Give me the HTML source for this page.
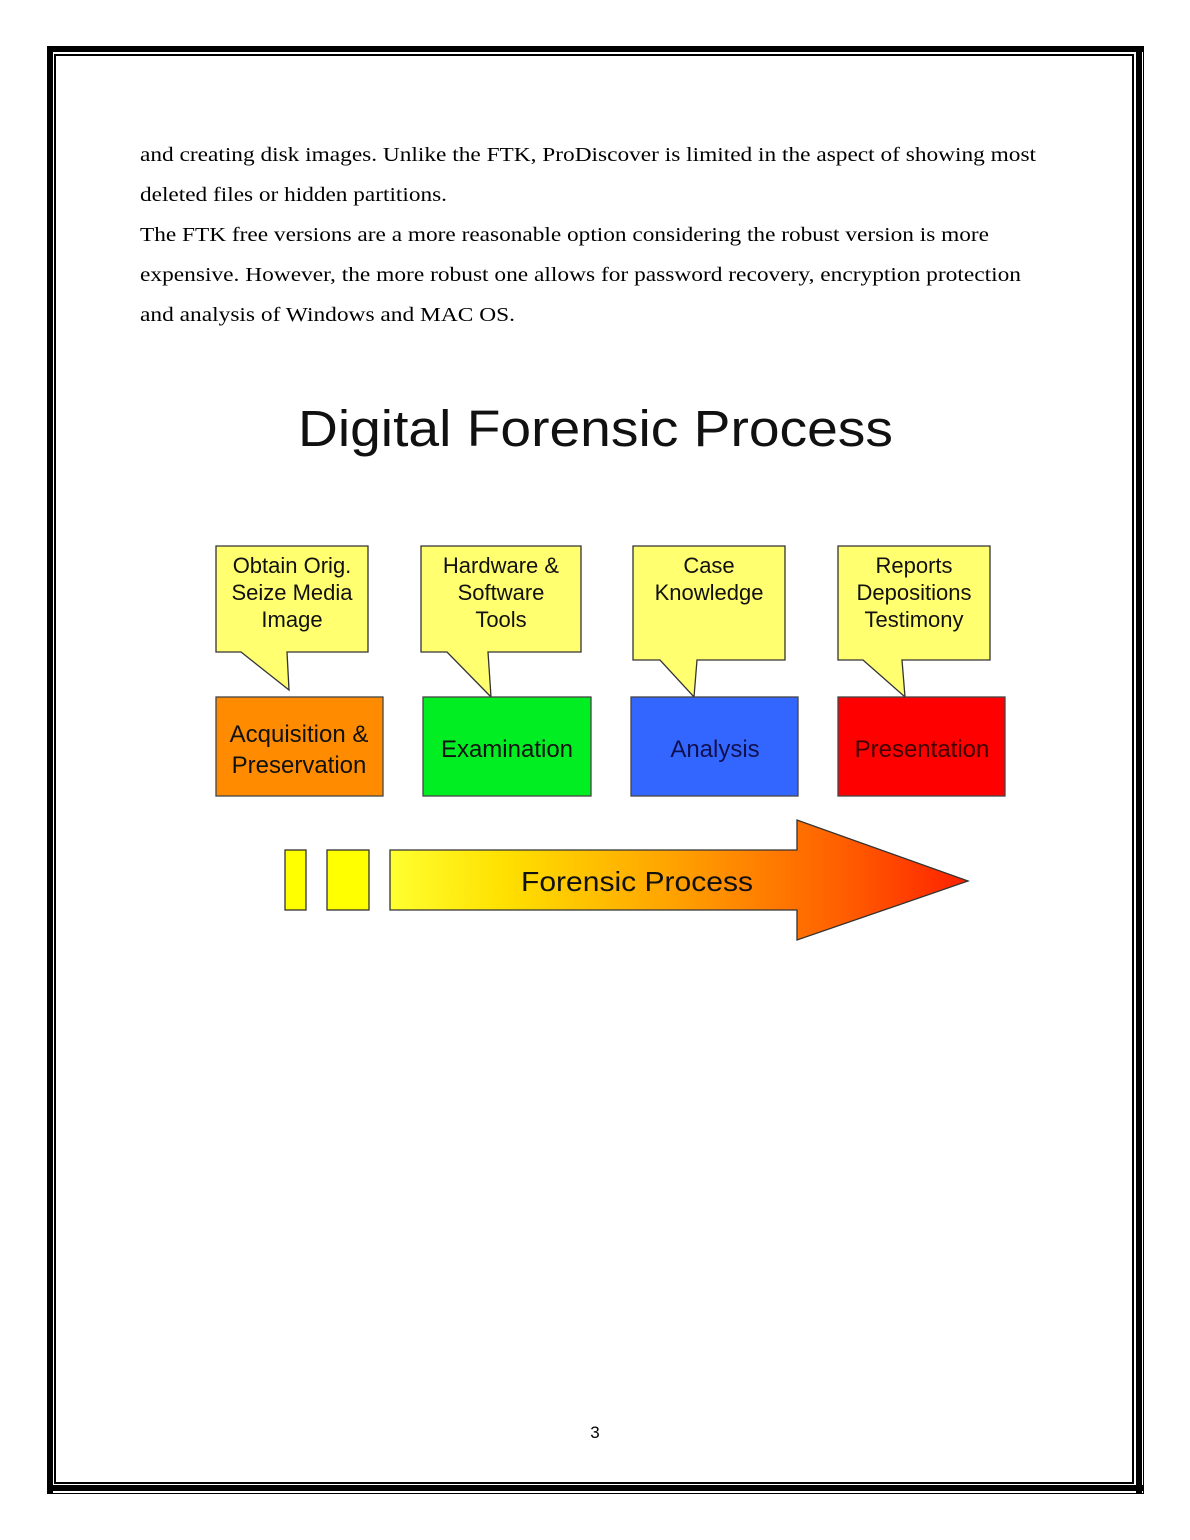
<!DOCTYPE html>
<html><head><style>
html,body{margin:0;padding:0;background:#fff;width:1190px;height:1540px;overflow:hidden;position:relative}
.b{position:absolute;background:#000}
</style></head><body>
<div class="b" style="left:47px;top:46px;width:1096px;height:6px"></div>
<div class="b" style="left:47px;top:46px;width:6px;height:1448px"></div>
<div class="b" style="left:54px;top:54px;width:1080px;height:2px"></div>
<div class="b" style="left:54px;top:54px;width:2px;height:1430px"></div>
<div class="b" style="left:1132px;top:54px;width:2px;height:1430px"></div>
<div class="b" style="left:54px;top:1482px;width:1080px;height:2px"></div>
<div class="b" style="left:1136px;top:46px;width:6px;height:1448px"></div>
<div class="b" style="left:47px;top:1485px;width:1096px;height:6px"></div>
<div class="b" style="left:1143px;top:46px;width:1px;height:1448px"></div>
<div class="b" style="left:47px;top:1493px;width:1097px;height:1px"></div>

<svg style="position:absolute;left:0;top:0" width="1190" height="1540" font-family="Liberation Sans, sans-serif">
<defs>
<linearGradient id="g" x1="390" y1="0" x2="968" y2="0" gradientUnits="userSpaceOnUse">
<stop offset="0" stop-color="#ffff30"/><stop offset="0.2" stop-color="#ffe000"/><stop offset="0.5" stop-color="#ffa000"/><stop offset="0.8" stop-color="#ff5a00"/><stop offset="1" stop-color="#ff2000"/>
</linearGradient>
</defs>
<g font-family="Liberation Serif, serif" font-size="20" fill="#000" lengthAdjust="spacingAndGlyphs">
<text x="140" y="161" textLength="896" lengthAdjust="spacingAndGlyphs">and creating disk images. Unlike the FTK, ProDiscover is limited in the aspect of showing most</text>
<text x="140" y="201" textLength="307" lengthAdjust="spacingAndGlyphs">deleted files or hidden partitions.</text>
<text x="140" y="241" textLength="849" lengthAdjust="spacingAndGlyphs">The FTK free versions are a more reasonable option considering the robust version is more</text>
<text x="140" y="281" textLength="881" lengthAdjust="spacingAndGlyphs">expensive. However, the more robust one allows for password recovery, encryption protection</text>
<text x="140" y="321" textLength="375" lengthAdjust="spacingAndGlyphs">and analysis of Windows and MAC OS.</text>
</g>
<text x="298" y="446" font-size="51" fill="#111" textLength="595" lengthAdjust="spacingAndGlyphs">Digital Forensic Process</text>
<g fill="#ffff70" stroke="#333" stroke-width="1.3">
<path d="M216 546H368V652H287L289 690L241 652H216Z"/>
<path d="M421 546H581V652H488L491 697L447 652H421Z"/>
<path d="M633 546H785V660H697L694 697L660 660H633Z"/>
<path d="M838 546H990V660H902L905 697L863 660H838Z"/>
</g>
<g font-size="22" text-anchor="middle" fill="#111">
<text x="292" y="573">Obtain Orig.</text><text x="292" y="600">Seize Media</text><text x="292" y="627">Image</text>
<text x="501" y="573">Hardware &amp;</text><text x="501" y="600">Software</text><text x="501" y="627">Tools</text>
<text x="709" y="573">Case</text><text x="709" y="600">Knowledge</text>
<text x="914" y="573">Reports</text><text x="914" y="600">Depositions</text><text x="914" y="627">Testimony</text>
</g>
<g stroke="#444" stroke-width="1.3">
<rect x="216" y="697" width="167" height="99" fill="#ff8c00"/>
<rect x="423" y="697" width="168" height="99" fill="#00ee22"/>
<rect x="631" y="697" width="167" height="99" fill="#3366ff"/>
<rect x="838" y="697" width="167" height="99" fill="#ff0000"/>
</g>
<g font-size="24" text-anchor="middle">
<text x="299" y="742" fill="#111">Acquisition &amp;</text><text x="299" y="773" fill="#111">Preservation</text>
<text x="507" y="757" fill="#111">Examination</text>
<text x="715" y="757" fill="#101050">Analysis</text>
<text x="922" y="757" fill="#400000">Presentation</text>
</g>
<g stroke="#333" stroke-width="1.3">
<rect x="285" y="850" width="21" height="60" fill="#ffff00"/>
<rect x="327" y="850" width="42" height="60" fill="#ffff00"/>
<path d="M390 850H797V820L968 881L797 940V910H390Z" fill="url(#g)"/>
</g>
<text x="521" y="891" font-size="28" fill="#111" textLength="232" lengthAdjust="spacingAndGlyphs">Forensic Process</text>
<text x="595" y="1438" font-size="17" text-anchor="middle" fill="#000">3</text>
</svg>
</body></html>
